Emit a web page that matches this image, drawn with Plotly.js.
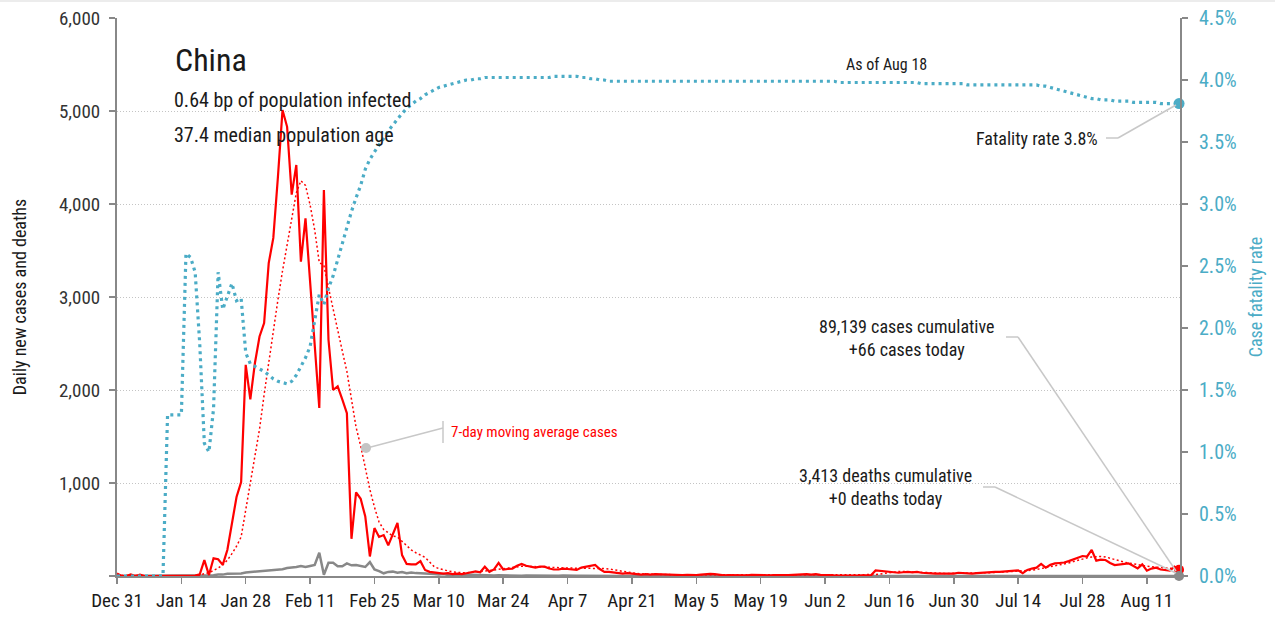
<!DOCTYPE html>
<html>
<head>
<meta charset="utf-8">
<script src="https://cdn.plot.ly/plotly-3.0.1.min.js"></script>
<style>
  html, body { margin: 0; padding: 0; background: #fff; }
  #chart { width: 1275px; height: 618px; }
</style>
</head>
<body>
<div id="chart"></div>
<script>
// ---------------- data ----------------
const startDate = '2019-12-31';
const dailyCases = [
  27,0,0,17,0,15,0,0,0,0,
  0,0,0,0,0,0,0,4,17,170,
  10,190,180,120,280,560,850,1010,2270,1900,
  2290,2575,2720,3365,3635,4290,5010,4830,4100,4420,
  3380,3845,3190,2530,1806,4150,2540,2000,2040,1900,
  1750,400,900,830,640,210,515,420,440,330,
  450,570,225,130,125,125,160,65,45,40,
  30,25,30,20,25,20,30,40,50,40,
  100,45,70,140,70,75,80,110,130,110,
  100,90,100,100,80,70,70,80,75,70,
  65,90,100,110,118,75,45,45,40,35,
  25,30,25,20,15,20,15,20,18,20,
  12,10,8,10,12,8,10,15,20,22,
  20,12,8,10,8,6,10,8,12,10,
  8,6,8,10,8,6,10,12,15,18,
  20,15,20,12,8,10,8,6,8,6,
  8,5,8,10,8,60,55,50,50,45,
  35,40,45,40,45,35,30,30,25,25,
  25,30,25,35,30,25,25,30,35,40,
  40,45,45,50,55,60,60,30,65,80,
  90,130,90,120,135,140,145,160,180,200,
  215,210,280,165,175,172,140,118,125,130,
  136,110,82,125,57,80,90,70,60,57,
  100,66
];
const movingAvgCases = [
  8,6,6,6,4,4,2,2,2,0,
  0,0,0,0,0,0,0,1,3,27,
  35,60,85,120,170,240,320,420,700,980,
  1280,1580,1950,2300,2650,2970,3280,3570,3850,4120,
  4250,4200,3990,3720,3370,3340,3100,2860,2650,2420,
  2200,1900,1600,1400,1150,930,740,580,500,460,
  430,420,370,320,280,250,225,200,150,100,
  80,65,55,45,38,35,35,38,42,48,
  52,58,65,72,80,88,95,100,105,105,
  102,100,98,95,92,90,88,86,85,85,
  85,85,85,85,85,85,80,75,70,60,
  50,40,35,28,22,20,18,17,16,15,
  15,14,13,12,12,12,12,13,14,15,
  15,14,13,12,11,10,10,10,9,9,
  9,9,9,9,9,9,10,11,12,13,
  14,15,15,14,13,12,11,10,9,8,
  8,8,8,8,8,15,22,30,38,45,
  48,48,45,43,42,40,38,35,32,30,
  28,28,28,28,28,28,28,29,30,32,
  35,38,40,43,47,50,52,50,55,62,
  70,80,90,100,108,115,125,140,155,170,
  185,195,205,210,210,205,190,180,165,150,
  140,130,120,110,105,100,95,90,85,80,
  78,75
];
const dailyDeaths = [
  0,0,0,0,0,0,0,0,0,0,
  0,1,0,0,0,0,0,0,1,0,
  3,8,16,15,25,24,26,26,38,43,
  45,46,57,64,65,73,73,86,89,97,
  108,97,108,118,250,13,143,142,106,105,
  136,115,118,109,97,150,71,52,29,44,
  47,35,42,31,38,31,30,28,27,22,
  17,22,11,7,13,10,14,13,11,8,
  3,7,6,9,7,4,6,5,3,5,
  4,1,7,6,3,2,3,5,2,1,
  3,2,1,2,1,1,0,1,0,0,
  0,0,0,1,0,0,0,0,0,0,
  0,0,0,0,0,0,0,0,0,0,
  0,0,1,0,0,0,0,0,0,0,
  0,0,0,0,0,0,0,0,0,0,
  0,0,0,0,0,0,0,0,0,0,
  0,0,0,0,0,0,0,0,0,0,
  0,0,0,0,0,0,0,0,0,0,
  0,0,0,0,0,0,0,0,0,0,
  0,0,0,0,0,0,0,0,0,0,
  0,0,0,0,0,0,0,0,0,0,
  0,0,0,0,0,0,0,0,0,0,
  0,0,0,0,0,0,0,0,0,0,
  0,0
];
const fatalityRatePct = [
  0,0,0,0,0,0,0,0,0,0,
  0,1.30,1.30,1.30,1.30,2.60,2.57,2.45,1.87,1.07,
  1.00,1.35,2.45,2.15,2.26,2.36,2.22,2.24,1.80,1.71,
  1.69,1.67,1.65,1.62,1.59,1.57,1.56,1.55,1.57,1.62,
  1.69,1.76,1.85,2.05,2.27,2.19,2.32,2.42,2.55,2.68,
  2.82,2.94,3.05,3.15,3.28,3.36,3.42,3.47,3.53,3.59,
  3.64,3.68,3.73,3.77,3.80,3.83,3.85,3.88,3.90,3.92,
  3.94,3.95,3.96,3.97,3.98,3.99,4.00,4.00,4.01,4.01,
  4.02,4.02,4.02,4.02,4.02,4.02,4.02,4.02,4.02,4.02,
  4.02,4.02,4.02,4.02,4.02,4.03,4.03,4.03,4.03,4.03,
  4.03,4.02,4.02,4.01,4.01,4.00,4.00,3.99,3.99,3.99,
  3.99,3.99,3.99,3.99,3.99,3.99,3.99,3.99,3.99,3.99,
  3.99,3.99,3.99,3.99,3.99,3.99,3.99,3.99,3.99,3.99,
  3.99,3.99,3.99,3.99,3.99,3.99,3.99,3.99,3.99,3.99,
  3.99,3.99,3.99,3.99,3.99,3.99,3.99,3.99,3.99,3.99,
  3.99,3.99,3.99,3.99,3.99,3.99,3.99,3.98,3.98,3.98,
  3.98,3.98,3.98,3.98,3.98,3.98,3.98,3.98,3.98,3.98,
  3.98,3.98,3.98,3.98,3.98,3.97,3.97,3.97,3.97,3.97,
  3.97,3.97,3.97,3.97,3.97,3.96,3.96,3.96,3.96,3.96,
  3.96,3.96,3.96,3.96,3.96,3.96,3.96,3.96,3.96,3.96,
  3.96,3.95,3.95,3.94,3.93,3.92,3.91,3.90,3.89,3.88,
  3.87,3.86,3.85,3.85,3.84,3.84,3.84,3.83,3.83,3.83,
  3.83,3.82,3.82,3.82,3.82,3.82,3.82,3.81,3.81,3.81,
  3.81,3.81
];
const xTickDates = ['2019-12-31','2020-01-14','2020-01-28','2020-02-11','2020-02-25','2020-03-10',
  '2020-03-24','2020-04-07','2020-04-21','2020-05-05','2020-05-19','2020-06-02','2020-06-16',
  '2020-06-30','2020-07-14','2020-07-28','2020-08-11'];
const xTickLabels = ['Dec 31','Jan 14','Jan 28','Feb 11','Feb 25','Mar 10','Mar 24','Apr 7',
  'Apr 21','May 5','May 19','Jun 2','Jun 16','Jun 30','Jul 14','Jul 28','Aug 11'];
const leftTicks = [0,1000,2000,3000,4000,5000,6000];
const leftTickLabels = ['','1,000','2,000','3,000','4,000','5,000','6,000'];
const rightTicks = [0,0.5,1,1.5,2,2.5,3,3.5,4,4.5];
const rightTickLabels = ['0.0%','0.5%','1.0%','1.5%','2.0%','2.5%','3.0%','3.5%','4.0%','4.5%'];

const countryName = 'China';
const infoLine1 = '0.64 bp of population infected';
const infoLine2 = '37.4 median population age';
const asOfText = 'As of Aug 18';
const fatalityText = 'Fatality rate 3.8%';
const casesText = '89,139 cases cumulative<br>+66 cases today';
const deathsText = '3,413 deaths cumulative<br>+0 deaths today';
const maText = '7-day moving average cases';

// ---------------- build ----------------
function dayStr(i) {
  const d = new Date(Date.UTC(2019, 11, 31) + i * 86400000);
  return d.toISOString().slice(0, 10);
}
const dates = dailyCases.map((_, i) => dayStr(i));
const last = dates.length - 1;

const FONT = '"Liberation Sans Narrow", "Roboto Condensed", "DejaVu Sans Condensed", "Arial Narrow", sans-serif';
const BLUE = '#4bacc6';
const RED = '#ff0000';
const GRAY = '#888888';

// plot-area pixel geometry (for annotation placement only)
const L = 117, R = 1180, T = 18, B = 576;
const px = v => (v - L) / (R - L);
const py = v => (B - v) / (B - T);

const traces = [
  { x: dates, y: fatalityRatePct, yaxis: 'y2', type: 'scatter', mode: 'lines',
    line: { color: BLUE, width: 3.2, dash: '3px,4px' }, hoverinfo: 'skip' },
  { x: dates, y: dailyDeaths, type: 'scatter', mode: 'lines',
    line: { color: GRAY, width: 2.5 }, hoverinfo: 'skip' },
  { x: dates, y: movingAvgCases, type: 'scatter', mode: 'lines',
    line: { color: RED, width: 1.5, dash: '2px,2.5px' }, hoverinfo: 'skip' },
  { x: dates, y: dailyCases, type: 'scatter', mode: 'lines',
    line: { color: RED, width: 2.2 }, hoverinfo: 'skip' },
  { x: [dates[last]], y: [fatalityRatePct[last]], yaxis: 'y2', mode: 'markers',
    marker: { color: BLUE, size: 11 }, cliponaxis: false, hoverinfo: 'skip' },
  { x: [dates[last]], y: [dailyCases[last]], mode: 'markers',
    marker: { color: RED, size: 10 }, cliponaxis: false, hoverinfo: 'skip' },
  { x: [dates[last]], y: [dailyDeaths[last]], mode: 'markers',
    marker: { color: GRAY, size: 10 }, cliponaxis: false, hoverinfo: 'skip' }
];

const leaderColor = '#c8c8c8';
function seg(x0, y0, x1, y1) {
  return { type: 'line', xref: 'paper', yref: 'paper', x0: px(x0), y0: py(y0), x1: px(x1), y1: py(y1),
    line: { color: leaderColor, width: 1.5 } };
}
const shapes = [
  seg(1106, 138, 1118, 138), seg(1118, 138, 1176, 105),
  seg(1006, 337, 1018, 337), seg(1018, 337, 1176, 571),
  seg(983, 487, 995, 487), seg(995, 487, 1176, 573),
  seg(367, 448, 443, 428), seg(443, 421, 443, 443),
  { type: 'circle', xref: 'paper', yref: 'paper', x0: px(361), x1: px(371), y0: py(443), y1: py(453),
    fillcolor: '#c4c4c4', line: { width: 0 } },
  { type: 'rect', xref: 'paper', yref: 'paper', x0: px(0), x1: px(1275), y0: py(0), y1: py(2),
    fillcolor: '#ececec', line: { width: 0 } }
];

function ann(text, x, y, xanchor, size, color) {
  return { text: text, xref: 'paper', yref: 'paper', x: px(x), y: py(y), xanchor: xanchor, yanchor: 'middle',
    showarrow: false, font: { family: FONT, size: size, color: color || '#1a1a1a' } };
}
const annotations = [
  ann(countryName, 173, 60, 'left', 32),
  ann(infoLine1, 172, 100, 'left', 20),
  ann(infoLine2, 172, 135, 'left', 20),
  ann(asOfText, 886, 65, 'center', 16),
  ann(fatalityText, 1100, 138, 'right', 18),
  Object.assign(ann(casesText, 907, 338, 'center', 18), { align: 'center' }),
  Object.assign(ann(deathsText, 885, 487, 'center', 18), { align: 'center' }),
  ann(maText, 449, 432, 'left', 15, RED)
];

const layout = {
  width: 1275, height: 618,
  margin: { l: L, r: 1275 - R, t: T, b: 618 - B, pad: 0 },
  paper_bgcolor: '#ffffff', plot_bgcolor: '#ffffff',
  showlegend: false,
  font: { family: FONT, color: '#333' },
  xaxis: {
    type: 'date', range: ['2019-12-31', '2020-08-18 05:00'],
    tickmode: 'array', tickvals: xTickDates, ticktext: xTickLabels,
    ticks: 'outside', ticklen: 6, tickwidth: 1.5, tickcolor: GRAY,
    showline: true, linecolor: GRAY, linewidth: 2,
    showgrid: false, zeroline: false,
    tickfont: { family: FONT, size: 19, color: '#1a1a1a' }
  },
  yaxis: {
    range: [0, 6000], tickmode: 'array', tickvals: leftTicks, ticktext: leftTickLabels,
    ticks: 'outside', ticklen: 6, tickwidth: 1.5, tickcolor: GRAY,
    ticklabelstandoff: 5,
    showline: true, linecolor: GRAY, linewidth: 2,
    showgrid: true, gridcolor: '#c4c4c4', griddash: '1px,2px', gridwidth: 1,
    zeroline: false,
    tickfont: { family: FONT, size: 19, color: '#333' },
    title: { text: 'Daily new cases and deaths', font: { family: FONT, size: 18, color: '#1a1a1a' }, standoff: 28 }
  },
  yaxis2: {
    overlaying: 'y', side: 'right',
    range: [0, 4.5], tickmode: 'array', tickvals: rightTicks, ticktext: rightTickLabels,
    ticks: 'outside', ticklen: 6, tickwidth: 1.5, tickcolor: GRAY,
    ticklabelstandoff: 7,
    showline: true, linecolor: GRAY, linewidth: 2,
    showgrid: false, zeroline: false,
    tickfont: { family: FONT, size: 20, color: BLUE },
    title: { text: 'Case fatality rate', font: { family: FONT, size: 18, color: BLUE }, standoff: 14 }
  },
  shapes: shapes,
  annotations: annotations
};

Plotly.newPlot('chart', traces, layout, { displayModeBar: false, staticPlot: true });
</script>
</body>
</html>
